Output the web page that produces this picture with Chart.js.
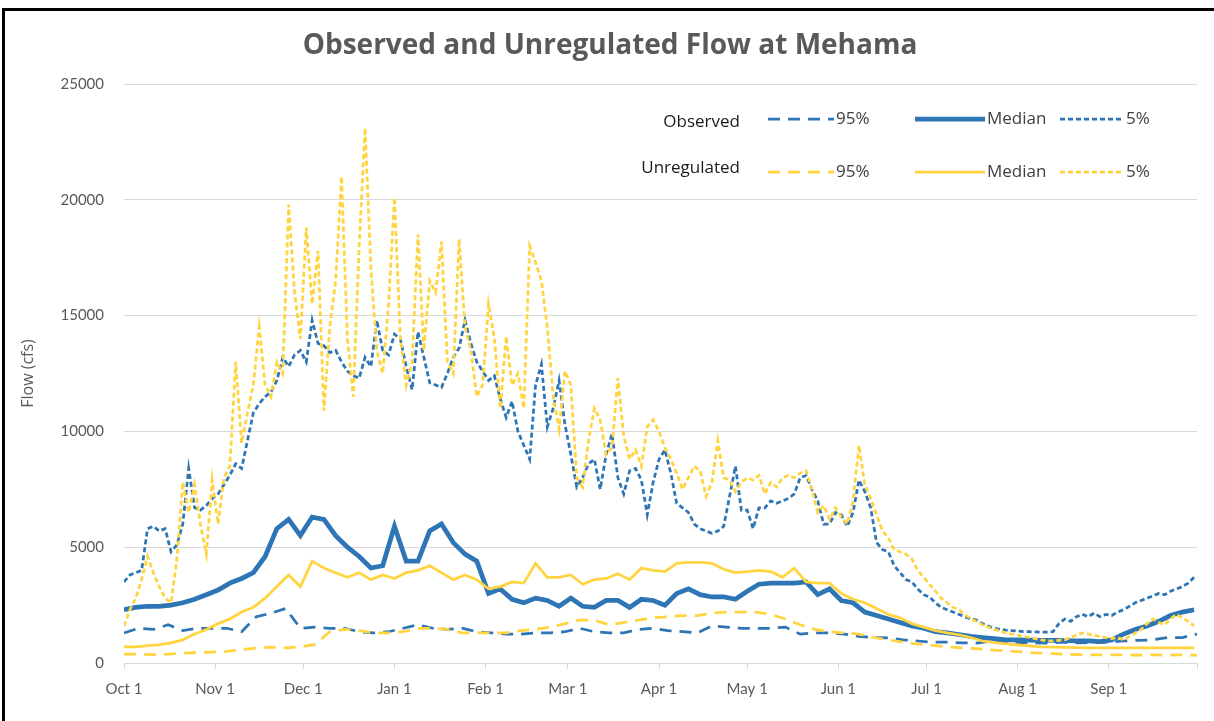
<!DOCTYPE html>
<html>
<head>
<meta charset="utf-8">
<title>Observed and Unregulated Flow at Mehama</title>
<script src="https://cdn.jsdelivr.net/npm/chart.js@4"></script>
<style>
  html, body { margin: 0; padding: 0; background: #fff; }
  #wrap { position: relative; width: 1214px; height: 721px; overflow: hidden; }
  #frame { position: absolute; left: 2px; top: 8px; width: 1230px; height: 740px; border: 3px solid #000; pointer-events: none; }
</style>
</head>
<body>
<div id="wrap">
  <canvas id="flowChart"></canvas>
  <div id="frame"></div>
</div>
<script>
// x axis: day of water year (Oct 1 = 0)
const monthDays = [0, 31, 61, 92, 123, 151, 182, 212, 243, 273, 304, 335, 365];
const monthLabels = ['Oct 1', 'Nov 1', 'Dec 1', 'Jan 1', 'Feb 1', 'Mar 1', 'Apr 1', 'May 1', 'Jun 1', 'Jul 1', 'Aug 1', 'Sep 1', ''];
const yTicks = [0, 5000, 10000, 15000, 20000, 25000];

// sample spacing (days) of each series
const highStep = 2;
const medianStep = 4;
const lowStep = 5;

// Observed 5% exceedance (high flows), every 2 days
const obsHigh = [
  3500, 3800, 3900, 4000, 5800, 5900, 5700, 5800, 4800, 5100, 6000, 8400, 6700, 6600, 6800, 7100,
  7300, 7700, 8100, 8600, 8400, 9600, 10800, 11200, 11500, 11700, 12200, 13200, 12800, 13300, 13500,
  13000, 14800, 13800, 13700, 13400, 13500, 13000, 12600, 12400, 12300, 13200, 12800, 14800, 13500,
  13300, 14200, 14000, 12800, 11800, 14300, 13200, 12100, 12000, 11900, 12500, 13200, 13600, 14800,
  13800, 13000, 12600, 12200, 12400, 11400, 10600, 11300, 10000, 9400, 8800, 12000, 12900, 10200,
  11000, 12200, 10300, 9000, 7600, 8000, 8600, 8800, 7500, 9000, 9900, 8000, 7300, 8300, 8400, 7900,
  6400, 7800, 8800, 9200, 8200, 6900, 6700, 6500, 6000, 5800, 5700, 5600, 5700, 5900, 7200, 8500,
  6600, 6600, 5800, 6700, 6700, 7000, 6900, 7000, 7100, 7300, 8000, 8100, 7500, 7000, 6000, 6000,
  6500, 6400, 5900, 6500, 7900, 7400, 6700, 5200, 4900, 4800, 4200, 3900, 3600, 3500, 3200, 2950,
  2850, 2600, 2400, 2300, 2200, 2100, 2000, 1900, 1850, 1700, 1600, 1500, 1450, 1420, 1400, 1380,
  1350, 1350, 1340, 1330, 1330, 1350, 1700, 1900, 1800, 2000, 2100, 2000, 2150, 2000, 2100, 2050,
  2200, 2300, 2450, 2600, 2700, 2800, 2900, 3000, 2950, 3100, 3200, 3300, 3450, 3700
];

// Unregulated 5% exceedance (high flows), every 2 days
const unregHigh = [
  1600, 2300, 2800, 3600, 4600, 3900, 3300, 2800, 2600, 4500, 7800, 6500, 7700, 6000, 4700, 7900,
  6000, 8000, 8500, 13000, 9500, 10800, 12000, 14500, 12000, 11500, 13000, 12500, 19800, 16000,
  14000, 18800, 15500, 17800, 10900, 14500, 16500, 21000, 14000, 11500, 18000, 23100, 17000, 13500,
  12500, 15500, 20100, 14000, 12000, 13000, 18500, 13500, 16500, 16000, 18200, 13000, 12500, 18300,
  14500, 13500, 11500, 12000, 15500, 14000, 11000, 14100, 12000, 12500, 11000, 18000, 17300, 16500,
  14500, 11500, 10100, 12600, 12000, 8000, 7600, 9600, 11000, 10500, 9000, 9300, 12300, 9800, 8800,
  9200, 8500, 10200, 10500, 10000, 9300, 8800, 8200, 7500, 8000, 8500, 8300, 7200, 7800, 9600, 8000,
  7900, 7400, 7800, 8000, 7900, 8100, 7300, 7800, 7600, 8000, 8100, 8000, 8200, 8300, 7500, 6500,
  6800, 6200, 6700, 6300, 6000, 7000, 9400, 7700, 7100, 6400, 5700, 5400, 4900, 4800, 4700, 4500,
  4000, 3700, 3400, 3100, 2800, 2600, 2400, 2300, 2100, 1900, 1800, 1650, 1550, 1450, 1380, 1300,
  1250, 1200, 1150, 1100, 1050, 1000, 950, 950, 980, 1000, 1100, 1200, 1300, 1250, 1200, 1150, 1100,
  1050, 1100, 1000, 1150, 1300, 1450, 1700, 1900, 1750, 1650, 1900, 2100, 1950, 1800, 1600
];

// Observed median, every 4 days
const obsMedian = [
  2300, 2400, 2450, 2450, 2500, 2600, 2750, 2950, 3150, 3450, 3650, 3900, 4600, 5800, 6200, 5500,
  6300, 6200, 5500, 5000, 4600, 4100, 4200, 5900, 4400, 4400, 5700, 6000, 5200, 4700, 4400, 3000,
  3200, 2750, 2600, 2800, 2700, 2450, 2800, 2450, 2400, 2700, 2700, 2400, 2750, 2700, 2500, 3000,
  3200, 2950, 2850, 2850, 2750, 3100, 3400, 3450, 3450, 3450, 3500, 2950, 3200, 2700, 2600, 2200,
  2050, 1900, 1750, 1600, 1500, 1350, 1300, 1230, 1150, 1100, 1050, 1000, 1000, 990, 980, 980, 970,
  960, 950, 920, 1000, 1250, 1450, 1600, 1800, 2050, 2200, 2300
];

// Unregulated median, every 4 days
const unregMedian = [
  700, 700, 750, 780, 870, 1000, 1250, 1450, 1700, 1900, 2200, 2400, 2800, 3300, 3800, 3300, 4400,
  4100, 3900, 3700, 3900, 3600, 3800, 3650, 3900, 4000, 4200, 3900, 3600, 3800, 3600, 3200, 3300,
  3500, 3450, 4300, 3700, 3700, 3800, 3400, 3600, 3650, 3850, 3600, 4100, 4000, 3950, 4300, 4350,
  4350, 4300, 4050, 3900, 3950, 4000, 3950, 3700, 4100, 3500, 3450, 3450, 3000, 2750, 2600, 2350,
  2100, 1950, 1700, 1550, 1400, 1300, 1220, 1100, 950, 880, 830, 780, 740, 700, 690, 670, 660, 650,
  650, 650, 650, 650, 650, 650, 650, 650, 650
];

// Observed 95% exceedance (low flows), every 5 days
const obsLow = [
  1300, 1500, 1450, 1650, 1400, 1500, 1500, 1500, 1350, 2000, 2150, 2350, 1500, 1550, 1500, 1500,
  1350, 1300, 1350, 1500, 1650, 1500, 1450, 1500, 1350, 1300, 1250, 1250, 1300, 1300, 1350, 1500,
  1350, 1300, 1300, 1450, 1500, 1400, 1350, 1300, 1600, 1550, 1500, 1500, 1500, 1550, 1250, 1300,
  1300, 1250, 1150, 1100, 1080, 1000, 950, 900, 900, 870, 860, 950, 900, 880, 870, 860, 900, 870,
  880, 900, 950, 980, 1000, 1100, 1100, 1250
];

// Unregulated 95% exceedance (low flows), every 5 days
const unregLow = [
  380, 380, 360, 380, 430, 450, 470, 500, 580, 650, 680, 650, 700, 800, 1350, 1450, 1400, 1300,
  1300, 1350, 1500, 1500, 1450, 1300, 1300, 1300, 1300, 1400, 1450, 1550, 1700, 1850, 1850, 1650,
  1750, 1850, 1950, 2000, 2050, 2050, 2150, 2200, 2200, 2200, 2100, 1900, 1650, 1450, 1350, 1300,
  1250, 1100, 1000, 900, 820, 760, 700, 650, 620, 570, 520, 480, 440, 420, 380, 360, 350, 350, 350,
  340, 350, 340, 350, 340
];

const BLUE = '#2E75B6';
const GOLD = '#FFD43F';
const LONG_DASH = [12, 8];
const SHORT_DASH = [5, 3];

function series(label, values, step, color, width, dash, order) {
  return {
    label: label,
    data: values.map((v, i) => ({ x: i * step, y: v })),
    borderColor: color,
    backgroundColor: color,
    borderWidth: width,
    borderDash: dash,
    pointRadius: 0,
    tension: 0,
    fill: false,
    order: order
  };
}

const datasets = [
  series('Observed 95%', obsLow, lowStep, BLUE, 2.75, LONG_DASH, 6),
  series('Observed Median', obsMedian, medianStep, BLUE, 4.75, [], 5),
  series('Observed 5%', obsHigh, highStep, BLUE, 2.75, SHORT_DASH, 4),
  series('Unregulated 95%', unregLow, lowStep, GOLD, 2.75, LONG_DASH, 3),
  series('Unregulated Median', unregMedian, medianStep, GOLD, 2.75, [], 2),
  series('Unregulated 5%', unregHigh, highStep, GOLD, 2.75, SHORT_DASH, 1)
];

// Title + two-row legend drawn on the canvas
const legendRows = [
  { name: 'Observed', textY: 122, lineY: 119, sets: [0, 1, 2] },
  { name: 'Unregulated', textY: 168, lineY: 172, sets: [3, 4, 5] }
];
const legendItems = [
  { text: '95%', x0: 768, x1: 834 },
  { text: 'Median', x0: 915, x1: 985 },
  { text: '5%', x0: 1060, x1: 1124 }
];

const headerPlugin = {
  id: 'header',
  afterDraw(chart) {
    const ctx = chart.ctx;
    ctx.save();
    ctx.fillStyle = '#595959';
    ctx.font = 'bold 28px "Open Sans", sans-serif';
    ctx.textAlign = 'center';
    ctx.textBaseline = 'middle';
    ctx.fillText('Observed and Unregulated Flow at Mehama', 610, 46);

    ctx.font = '17px "Open Sans", sans-serif';
    legendRows.forEach(row => {
      ctx.fillStyle = '#1a1a1a';
      ctx.textAlign = 'right';
      ctx.fillText(row.name, 740, row.textY);
      row.sets.forEach((di, j) => {
        const ds = chart.data.datasets[di];
        const item = legendItems[j];
        ctx.strokeStyle = ds.borderColor;
        ctx.lineWidth = ds.borderWidth;
        ctx.setLineDash(ds.borderDash);
        ctx.beginPath();
        ctx.moveTo(item.x0, row.lineY);
        ctx.lineTo(item.x1, row.lineY);
        ctx.stroke();
        ctx.setLineDash([]);
        ctx.fillStyle = '#404040';
        ctx.textAlign = 'left';
        ctx.fillText(item.text, item.x1 + 2, row.lineY);
      });
    });
    ctx.restore();
  }
};

Chart.defaults.font.family = 'Lato, "Open Sans", sans-serif';
Chart.defaults.color = '#595959';

new Chart(document.getElementById('flowChart'), {
  type: 'line',
  data: { datasets: datasets },
  options: {
    responsive: true,
    maintainAspectRatio: false,
    animation: false,
    layout: { padding: { top: 84, right: 17, left: 0, bottom: 0 } },
    plugins: {
      legend: { display: false },
      title: { display: false },
      tooltip: { enabled: false }
    },
    scales: {
      x: {
        type: 'linear',
        min: 0,
        max: 365,
        afterBuildTicks: scale => { scale.ticks = monthDays.map(v => ({ value: v })); },
        afterFit: scale => { scale.height = 58; },
        ticks: {
          autoSkip: false,
          maxRotation: 0,
          padding: 11,
          font: { size: 15 },
          callback: (value, index) => monthLabels[index]
        },
        grid: { drawOnChartArea: false, drawTicks: true, tickLength: 6, color: '#d9d9d9' },
        border: { color: '#d9d9d9' }
      },
      y: {
        min: 0,
        max: 25000,
        afterBuildTicks: scale => { scale.ticks = yTicks.map(v => ({ value: v })); },
        afterFit: scale => { scale.width = 124; },
        ticks: {
          padding: 20,
          font: { size: 15 },
          callback: value => String(value)
        },
        grid: { color: '#d9d9d9', drawTicks: false },
        border: { display: false },
        title: {
          display: true,
          text: 'Flow (cfs)',
          font: { family: '"Open Sans", sans-serif', size: 16 },
          color: '#595959',
          padding: { top: 19, bottom: 0 }
        }
      }
    }
  },
  plugins: [headerPlugin]
});
</script>
</body>
</html>
